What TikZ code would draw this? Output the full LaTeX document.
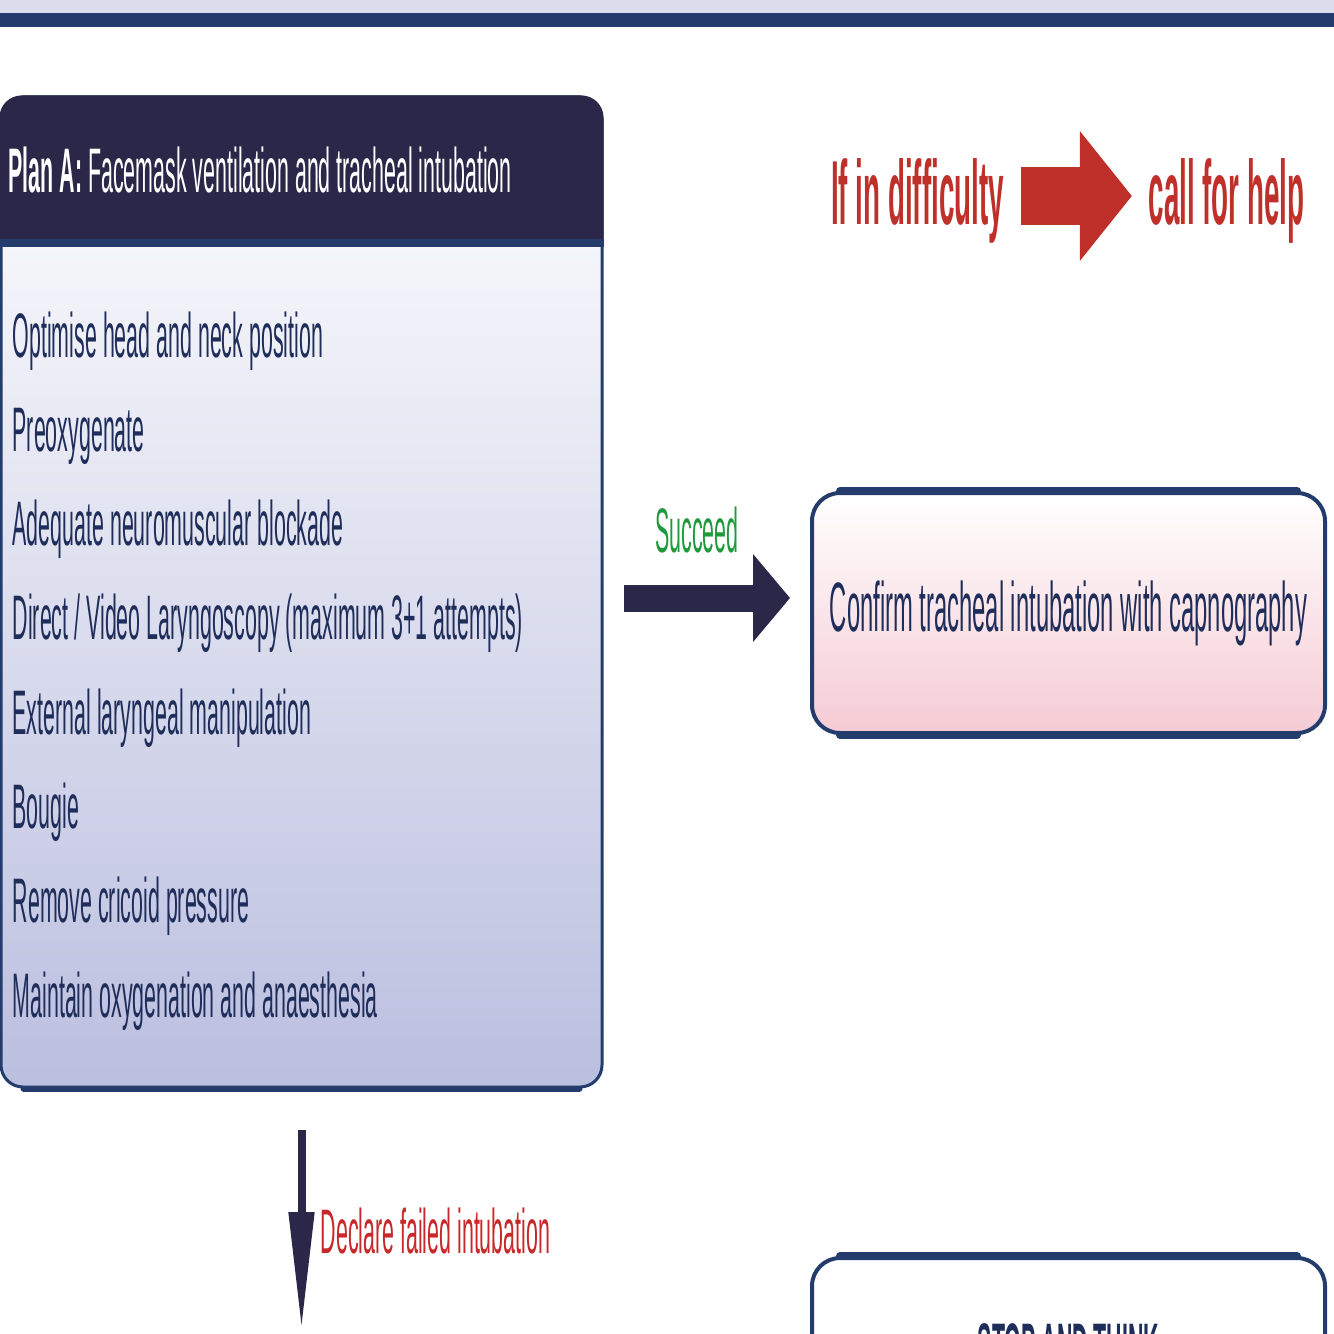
\documentclass[tikz,border=0pt]{standalone}
\usepackage{fontspec}
\setmainfont{Liberation Sans}
\newfontfamily\cnd[FakeStretch=0.34]{Liberation Sans}
\newfontfamily\cndhelp[FakeStretch=0.305]{Liberation Sans}
\usetikzlibrary{arrows.meta, positioning, calc}
\definecolor{NavyDark}{RGB}{43,39,73}
\definecolor{NavyLine}{RGB}{36,60,108}
\definecolor{NavyText}{RGB}{31,45,90}
\definecolor{LavBottom}{RGB}{187,191,223}
\definecolor{BandLight}{RGB}{220,220,236}
\definecolor{PinkBottom}{RGB}{245,203,212}
\definecolor{HelpRed}{RGB}{192,48,42}
\definecolor{FailRed}{RGB}{200,40,42}
\definecolor{SuccGreen}{RGB}{30,154,60}

\begin{document}
\begin{tikzpicture}[
    planbox/.style={rectangle,rounded corners=0.22cm,draw=NavyLine,line width=0.03cm,
                    top color=white,middle color=LavBottom!35!white,bottom color=LavBottom,
                    minimum width=6.01cm,minimum height=9.90cm},
    actbox/.style={rectangle,rounded corners=0.28cm,draw=NavyLine,line width=0.04cm,
                   minimum width=5.13cm,minimum height=2.40cm,text=NavyText,
                   font=\cnd\fontsize{19.9}{22}\selectfont},
    edge/.style={NavyLine,line width=0.08cm,line cap=round},
    item/.style={font=\cnd\fontsize{17.9}{20}\selectfont,text=NavyText,
                 inner sep=0pt,anchor=base west},
    helptext/.style={font=\cndhelp\bfseries\fontsize{25.9}{28}\selectfont,
                     text=HelpRed,inner sep=0pt,anchor=base},
    succarrow/.style={NavyDark,line width=0.27cm,
                      -{Triangle[length=0.37cm,width=0.86cm]}},
    helparrow/.style={HelpRed,line width=0.57cm,
                      -{Triangle[length=0.52cm,width=1.27cm]}},
    failarrow/.style={NavyDark,line width=0.08cm,
                      -{Triangle[length=1.18cm,width=0.24cm]}}
  ]
  \clip (0,0) rectangle (13.34,-13.34);
  % top band
  \fill[BandLight] (0,0) rectangle (13.34,-0.13);
  \fill[NavyLine] (0,-0.13) rectangle (13.34,-0.27);

  % plan A
  \node[planbox] (planA) at (3.015,-5.92) {};
  \begin{scope}
    \clip ([xshift=-0.1cm,yshift=0.1cm]planA.north west)
      rectangle ([xshift=0.1cm,yshift=-1.43cm]planA.north east);
    \fill[NavyDark,rounded corners=0.22cm]
      (planA.north west) rectangle ([yshift=-2cm]planA.north east);
  \end{scope}
  \draw[NavyLine,line width=0.08cm]
    ([yshift=-1.47cm]planA.north west) -- ([yshift=-1.47cm]planA.north east);
  \draw[edge,line width=0.06cm]
    ([xshift=0.24cm]planA.south west) -- ([xshift=-0.24cm]planA.south east);
  \node[item,text=white] (title) at (0.08,-1.92)
    {\textbf{Plan A:} Facemask ventilation and tracheal intubation};
  \foreach \txt [count=\i] in {Optimise head and neck position,Preoxygenate,
      Adequate neuromuscular blockade,
      Direct / Video Laryngoscopy (maximum 3+1 attempts),
      External laryngeal manipulation,Bougie,Remove cricoid pressure,
      Maintain oxygenation and anaesthesia}
    \node[item] (step\i) at (0.12,{-3.57-0.943*(\i-1)}) {\txt};

  % succeed
  \node[actbox,top color=white,bottom color=PinkBottom] (confirm) at (10.685,-6.13)
    {Confirm tracheal intubation with capnography};
  \draw[edge] ([xshift=0.3cm]confirm.north west) -- ([xshift=-0.3cm]confirm.north east);
  \draw[edge] ([xshift=0.3cm]confirm.south west) -- ([xshift=-0.3cm]confirm.south east);
  \draw[succarrow,shorten <=0.2cm,shorten >=0.2cm]
    (planA.east |- 0,-5.98) -- (confirm.west |- 0,-5.98);
  \node[item,anchor=base,text=SuccGreen] (succ) at (6.97,-5.52) {Succeed};

  % call for help
  \node[helptext] (diff) at (9.175,-2.25) {If in difficulty};
  \node[helptext] (help) at (12.265,-2.25) {call for help};
  \draw[helparrow,shorten <=0.16cm,shorten >=0.16cm]
    (diff.east |- 0,-1.96) -- (help.west |- 0,-1.96);

  % failed intubation
  \coordinate (failend) at (planA.south |- 0,-13.30);
  \draw[failarrow,shorten <=0.41cm] (planA.south) -- (failend);
  \node[item,text=FailRed] (fail) at (3.20,-12.53) {Declare failed intubation};

  % stop and think
  \node[actbox,fill=white] (stop) at (10.685,-13.78) {};
  \draw[edge] ([xshift=0.3cm]stop.north west) -- ([xshift=-0.3cm]stop.north east);
  \node[item,anchor=base,font=\cnd\bfseries\fontsize{17.9}{20}\selectfont]
    (think) at (10.685,-13.67) {STOP AND THINK};
\end{tikzpicture}
\end{document}
